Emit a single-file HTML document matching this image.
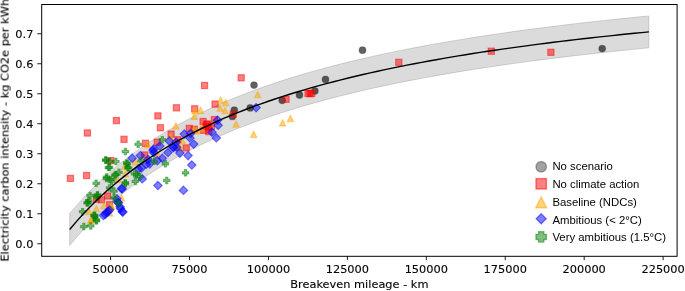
<!DOCTYPE html>
<html><head><meta charset="utf-8"><title>Breakeven mileage vs electricity carbon intensity</title>
<style>
html,body{margin:0;padding:0;background:#fff;}
body{width:685px;height:291px;overflow:hidden;}
svg{display:block;}
.dv{font-family:"DejaVu Sans","Liberation Sans",sans-serif;font-size:11.35px;fill:#000;stroke:#000;stroke-width:0.12px;}
.lb{font-family:"Liberation Sans",Arial,Helvetica,sans-serif;font-size:11.35px;fill:#000;}
</style></head><body>
<svg width="685" height="291" viewBox="0 0 685 291">
<rect x="0" y="0" width="685" height="291" fill="#fff"/>
<polygon points="69.68,213.47 77.01,204.89 84.35,196.83 91.68,189.24 99.01,182.08 106.34,175.32 113.67,168.93 121.01,162.87 128.34,157.12 135.67,151.66 143.00,146.46 150.33,141.51 157.67,136.79 165.00,132.28 172.33,127.98 179.66,123.86 186.99,119.91 194.32,116.13 201.66,112.51 208.99,109.03 216.32,105.68 223.65,102.47 230.98,99.37 238.32,96.39 245.65,93.52 252.98,90.75 260.31,88.07 267.64,85.49 274.98,83.00 282.31,80.59 289.64,78.26 296.97,76.00 304.30,73.81 311.64,71.70 318.97,69.65 326.30,67.66 333.63,65.73 340.96,63.85 348.29,62.03 355.63,60.27 362.96,58.55 370.29,56.88 377.62,55.25 384.95,53.67 392.29,52.13 399.62,50.64 406.95,49.18 414.28,47.75 421.61,46.37 428.95,45.02 436.28,43.70 443.61,42.41 450.94,41.16 458.27,39.93 465.61,38.74 472.94,37.57 480.27,36.43 487.60,35.31 494.93,34.22 502.26,33.15 509.60,32.11 516.93,31.09 524.26,30.09 531.59,29.12 538.92,28.16 546.26,27.22 553.59,26.30 560.92,25.41 568.25,24.53 575.58,23.66 582.92,22.82 590.25,21.99 597.58,21.17 604.91,20.38 612.24,19.59 619.58,18.83 626.91,18.07 634.24,17.33 641.57,16.61 648.90,15.89 648.90,47.87 641.57,48.59 634.24,49.31 626.91,50.05 619.58,50.81 612.24,51.57 604.91,52.36 597.58,53.15 590.25,53.97 582.92,54.80 575.58,55.64 568.25,56.51 560.92,57.39 553.59,58.28 546.26,59.20 538.92,60.14 531.59,61.10 524.26,62.07 516.93,63.07 509.60,64.09 502.26,65.13 494.93,66.20 487.60,67.29 480.27,68.41 472.94,69.55 465.61,70.72 458.27,71.91 450.94,73.14 443.61,74.39 436.28,75.68 428.95,77.00 421.61,78.35 414.28,79.73 406.95,81.16 399.62,82.62 392.29,84.11 384.95,85.65 377.62,87.23 370.29,88.86 362.96,90.53 355.63,92.25 348.29,94.01 340.96,95.83 333.63,97.71 326.30,99.64 318.97,101.63 311.64,103.68 304.30,105.79 296.97,107.98 289.64,110.24 282.31,112.57 274.98,114.98 267.64,117.47 260.31,120.05 252.98,122.73 245.65,125.50 238.32,128.37 230.98,131.35 223.65,134.45 216.32,137.66 208.99,141.01 201.66,144.49 194.32,148.11 186.99,151.89 179.66,155.84 172.33,159.96 165.00,164.26 157.67,168.77 150.33,173.49 143.00,178.44 135.67,183.64 128.34,189.10 121.01,194.85 113.67,200.91 106.34,207.30 99.01,214.06 91.68,221.22 84.35,228.81 77.01,236.87 69.68,245.45" fill="#000" fill-opacity="0.14" stroke="#000" stroke-opacity="0.18" stroke-width="0.8"/>
<g>
<circle cx="254.0" cy="85.1" r="3.4" fill="#000" fill-opacity="0.62" stroke="#000" stroke-opacity="0.25" stroke-width="1.1"/>
<circle cx="250.2" cy="107.9" r="3.4" fill="#000" fill-opacity="0.62" stroke="#000" stroke-opacity="0.25" stroke-width="1.1"/>
<circle cx="234.3" cy="110.2" r="3.4" fill="#000" fill-opacity="0.62" stroke="#000" stroke-opacity="0.25" stroke-width="1.1"/>
<circle cx="232.4" cy="116.4" r="3.4" fill="#000" fill-opacity="0.62" stroke="#000" stroke-opacity="0.25" stroke-width="1.1"/>
<circle cx="282.2" cy="100.3" r="3.4" fill="#000" fill-opacity="0.62" stroke="#000" stroke-opacity="0.25" stroke-width="1.1"/>
<circle cx="299.5" cy="95.0" r="3.4" fill="#000" fill-opacity="0.62" stroke="#000" stroke-opacity="0.25" stroke-width="1.1"/>
<circle cx="314.9" cy="90.9" r="3.4" fill="#000" fill-opacity="0.62" stroke="#000" stroke-opacity="0.25" stroke-width="1.1"/>
<circle cx="362.5" cy="50.2" r="3.4" fill="#000" fill-opacity="0.62" stroke="#000" stroke-opacity="0.25" stroke-width="1.1"/>
<circle cx="325.5" cy="79.4" r="3.4" fill="#000" fill-opacity="0.62" stroke="#000" stroke-opacity="0.25" stroke-width="1.1"/>
<circle cx="602.2" cy="48.6" r="3.4" fill="#000" fill-opacity="0.62" stroke="#000" stroke-opacity="0.25" stroke-width="1.1"/>
<rect x="84.3" y="129.9" width="6.2" height="6.2" fill="#f00" fill-opacity="0.5" stroke="#f00" stroke-opacity="0.5" stroke-width="1.1"/>
<rect x="113.3" y="117.5" width="6.2" height="6.2" fill="#f00" fill-opacity="0.5" stroke="#f00" stroke-opacity="0.5" stroke-width="1.1"/>
<rect x="120.9" y="136.2" width="6.2" height="6.2" fill="#f00" fill-opacity="0.5" stroke="#f00" stroke-opacity="0.5" stroke-width="1.1"/>
<rect x="142.4" y="140.2" width="6.2" height="6.2" fill="#f00" fill-opacity="0.5" stroke="#f00" stroke-opacity="0.5" stroke-width="1.1"/>
<rect x="67.3" y="175.3" width="6.2" height="6.2" fill="#f00" fill-opacity="0.5" stroke="#f00" stroke-opacity="0.5" stroke-width="1.1"/>
<rect x="83.5" y="172.4" width="6.2" height="6.2" fill="#f00" fill-opacity="0.5" stroke="#f00" stroke-opacity="0.5" stroke-width="1.1"/>
<rect x="107.7" y="157.6" width="6.2" height="6.2" fill="#f00" fill-opacity="0.5" stroke="#f00" stroke-opacity="0.5" stroke-width="1.1"/>
<rect x="141.6" y="151.9" width="6.2" height="6.2" fill="#f00" fill-opacity="0.5" stroke="#f00" stroke-opacity="0.5" stroke-width="1.1"/>
<rect x="93.3" y="196.1" width="6.2" height="6.2" fill="#f00" fill-opacity="0.5" stroke="#f00" stroke-opacity="0.5" stroke-width="1.1"/>
<rect x="98.3" y="196.7" width="6.2" height="6.2" fill="#f00" fill-opacity="0.5" stroke="#f00" stroke-opacity="0.5" stroke-width="1.1"/>
<rect x="104.6" y="192.9" width="6.2" height="6.2" fill="#f00" fill-opacity="0.5" stroke="#f00" stroke-opacity="0.5" stroke-width="1.1"/>
<rect x="106.5" y="201.7" width="6.2" height="6.2" fill="#f00" fill-opacity="0.5" stroke="#f00" stroke-opacity="0.5" stroke-width="1.1"/>
<rect x="154.8" y="112.8" width="6.2" height="6.2" fill="#f00" fill-opacity="0.5" stroke="#f00" stroke-opacity="0.5" stroke-width="1.1"/>
<rect x="157.3" y="124.7" width="6.2" height="6.2" fill="#f00" fill-opacity="0.5" stroke="#f00" stroke-opacity="0.5" stroke-width="1.1"/>
<rect x="168.0" y="131.0" width="6.2" height="6.2" fill="#f00" fill-opacity="0.5" stroke="#f00" stroke-opacity="0.5" stroke-width="1.1"/>
<rect x="186.2" y="125.3" width="6.2" height="6.2" fill="#f00" fill-opacity="0.5" stroke="#f00" stroke-opacity="0.5" stroke-width="1.1"/>
<rect x="154.2" y="139.1" width="6.2" height="6.2" fill="#f00" fill-opacity="0.5" stroke="#f00" stroke-opacity="0.5" stroke-width="1.1"/>
<rect x="174.9" y="136.6" width="6.2" height="6.2" fill="#f00" fill-opacity="0.5" stroke="#f00" stroke-opacity="0.5" stroke-width="1.1"/>
<rect x="183.1" y="144.8" width="6.2" height="6.2" fill="#f00" fill-opacity="0.5" stroke="#f00" stroke-opacity="0.5" stroke-width="1.1"/>
<rect x="200.0" y="118.4" width="6.2" height="6.2" fill="#f00" fill-opacity="0.5" stroke="#f00" stroke-opacity="0.5" stroke-width="1.1"/>
<rect x="204.4" y="120.9" width="6.2" height="6.2" fill="#f00" fill-opacity="0.5" stroke="#f00" stroke-opacity="0.5" stroke-width="1.1"/>
<rect x="200.7" y="127.2" width="6.2" height="6.2" fill="#f00" fill-opacity="0.5" stroke="#f00" stroke-opacity="0.5" stroke-width="1.1"/>
<rect x="205.7" y="128.5" width="6.2" height="6.2" fill="#f00" fill-opacity="0.5" stroke="#f00" stroke-opacity="0.5" stroke-width="1.1"/>
<rect x="211.3" y="116.5" width="6.2" height="6.2" fill="#f00" fill-opacity="0.5" stroke="#f00" stroke-opacity="0.5" stroke-width="1.1"/>
<rect x="208.2" y="123.5" width="6.2" height="6.2" fill="#f00" fill-opacity="0.5" stroke="#f00" stroke-opacity="0.5" stroke-width="1.1"/>
<rect x="191.2" y="126.2" width="6.2" height="6.2" fill="#f00" fill-opacity="0.5" stroke="#f00" stroke-opacity="0.5" stroke-width="1.1"/>
<rect x="202.9" y="123.5" width="6.2" height="6.2" fill="#f00" fill-opacity="0.5" stroke="#f00" stroke-opacity="0.5" stroke-width="1.1"/>
<rect x="201.5" y="82.4" width="6.2" height="6.2" fill="#f00" fill-opacity="0.5" stroke="#f00" stroke-opacity="0.5" stroke-width="1.1"/>
<rect x="173.3" y="104.7" width="6.2" height="6.2" fill="#f00" fill-opacity="0.5" stroke="#f00" stroke-opacity="0.5" stroke-width="1.1"/>
<rect x="191.6" y="105.7" width="6.2" height="6.2" fill="#f00" fill-opacity="0.5" stroke="#f00" stroke-opacity="0.5" stroke-width="1.1"/>
<rect x="212.0" y="101.0" width="6.2" height="6.2" fill="#f00" fill-opacity="0.5" stroke="#f00" stroke-opacity="0.5" stroke-width="1.1"/>
<rect x="238.1" y="74.7" width="6.2" height="6.2" fill="#f00" fill-opacity="0.5" stroke="#f00" stroke-opacity="0.5" stroke-width="1.1"/>
<rect x="230.2" y="111.0" width="6.2" height="6.2" fill="#f00" fill-opacity="0.5" stroke="#f00" stroke-opacity="0.5" stroke-width="1.1"/>
<rect x="282.9" y="96.2" width="6.2" height="6.2" fill="#f00" fill-opacity="0.5" stroke="#f00" stroke-opacity="0.5" stroke-width="1.1"/>
<rect x="304.9" y="90.3" width="6.2" height="6.2" fill="#f00" fill-opacity="0.5" stroke="#f00" stroke-opacity="0.5" stroke-width="1.1"/>
<rect x="308.6" y="90.3" width="6.2" height="6.2" fill="#f00" fill-opacity="0.5" stroke="#f00" stroke-opacity="0.5" stroke-width="1.1"/>
<rect x="203.4" y="121.4" width="6.2" height="6.2" fill="#f00" fill-opacity="0.5" stroke="#f00" stroke-opacity="0.5" stroke-width="1.1"/>
<rect x="205.6" y="124.4" width="6.2" height="6.2" fill="#f00" fill-opacity="0.5" stroke="#f00" stroke-opacity="0.5" stroke-width="1.1"/>
<rect x="306.9" y="90.6" width="6.2" height="6.2" fill="#f00" fill-opacity="0.5" stroke="#f00" stroke-opacity="0.5" stroke-width="1.1"/>
<rect x="395.7" y="59.2" width="6.2" height="6.2" fill="#f00" fill-opacity="0.5" stroke="#f00" stroke-opacity="0.5" stroke-width="1.1"/>
<rect x="488.2" y="48.1" width="6.2" height="6.2" fill="#f00" fill-opacity="0.5" stroke="#f00" stroke-opacity="0.5" stroke-width="1.1"/>
<rect x="547.8" y="49.2" width="6.2" height="6.2" fill="#f00" fill-opacity="0.5" stroke="#f00" stroke-opacity="0.5" stroke-width="1.1"/>
<path d="M147.8,141.8 L150.9,148.0 L144.7,148.0 Z" fill="#ffa500" fill-opacity="0.5" stroke="#ffa500" stroke-opacity="0.5" stroke-width="1.1" stroke-linejoin="miter"/>
<path d="M135.3,158.8 L138.4,165.0 L132.2,165.0 Z" fill="#ffa500" fill-opacity="0.5" stroke="#ffa500" stroke-opacity="0.5" stroke-width="1.1" stroke-linejoin="miter"/>
<path d="M124.7,163.2 L127.8,169.4 L121.6,169.4 Z" fill="#ffa500" fill-opacity="0.5" stroke="#ffa500" stroke-opacity="0.5" stroke-width="1.1" stroke-linejoin="miter"/>
<path d="M125.3,170.8 L128.4,177.0 L122.2,177.0 Z" fill="#ffa500" fill-opacity="0.5" stroke="#ffa500" stroke-opacity="0.5" stroke-width="1.1" stroke-linejoin="miter"/>
<path d="M117.8,176.4 L120.9,182.6 L114.7,182.6 Z" fill="#ffa500" fill-opacity="0.5" stroke="#ffa500" stroke-opacity="0.5" stroke-width="1.1" stroke-linejoin="miter"/>
<path d="M96.4,205.5 L99.5,211.7 L93.3,211.7 Z" fill="#ffa500" fill-opacity="0.5" stroke="#ffa500" stroke-opacity="0.5" stroke-width="1.1" stroke-linejoin="miter"/>
<path d="M103.9,202.4 L107.0,208.6 L100.8,208.6 Z" fill="#ffa500" fill-opacity="0.5" stroke="#ffa500" stroke-opacity="0.5" stroke-width="1.1" stroke-linejoin="miter"/>
<path d="M88.9,208.6 L92.0,214.8 L85.8,214.8 Z" fill="#ffa500" fill-opacity="0.5" stroke="#ffa500" stroke-opacity="0.5" stroke-width="1.1" stroke-linejoin="miter"/>
<path d="M91.4,216.2 L94.5,222.4 L88.3,222.4 Z" fill="#ffa500" fill-opacity="0.5" stroke="#ffa500" stroke-opacity="0.5" stroke-width="1.1" stroke-linejoin="miter"/>
<path d="M121.5,194.8 L124.6,201.0 L118.4,201.0 Z" fill="#ffa500" fill-opacity="0.5" stroke="#ffa500" stroke-opacity="0.5" stroke-width="1.1" stroke-linejoin="miter"/>
<path d="M111.5,203.0 L114.6,209.2 L108.4,209.2 Z" fill="#ffa500" fill-opacity="0.5" stroke="#ffa500" stroke-opacity="0.5" stroke-width="1.1" stroke-linejoin="miter"/>
<path d="M109.6,209.9 L112.7,216.1 L106.5,216.1 Z" fill="#ffa500" fill-opacity="0.5" stroke="#ffa500" stroke-opacity="0.5" stroke-width="1.1" stroke-linejoin="miter"/>
<path d="M90.8,217.2 L93.9,223.4 L87.7,223.4 Z" fill="#ffa500" fill-opacity="0.5" stroke="#ffa500" stroke-opacity="0.5" stroke-width="1.1" stroke-linejoin="miter"/>
<path d="M157.9,151.3 L161.0,157.5 L154.8,157.5 Z" fill="#ffa500" fill-opacity="0.5" stroke="#ffa500" stroke-opacity="0.5" stroke-width="1.1" stroke-linejoin="miter"/>
<path d="M175.9,122.8 L179.0,129.0 L172.8,129.0 Z" fill="#ffa500" fill-opacity="0.5" stroke="#ffa500" stroke-opacity="0.5" stroke-width="1.1" stroke-linejoin="miter"/>
<path d="M194.3,113.2 L197.4,119.4 L191.2,119.4 Z" fill="#ffa500" fill-opacity="0.5" stroke="#ffa500" stroke-opacity="0.5" stroke-width="1.1" stroke-linejoin="miter"/>
<path d="M170.5,133.5 L173.6,139.7 L167.4,139.7 Z" fill="#ffa500" fill-opacity="0.5" stroke="#ffa500" stroke-opacity="0.5" stroke-width="1.1" stroke-linejoin="miter"/>
<path d="M193.7,126.0 L196.8,132.2 L190.6,132.2 Z" fill="#ffa500" fill-opacity="0.5" stroke="#ffa500" stroke-opacity="0.5" stroke-width="1.1" stroke-linejoin="miter"/>
<path d="M201.2,124.7 L204.3,130.9 L198.1,130.9 Z" fill="#ffa500" fill-opacity="0.5" stroke="#ffa500" stroke-opacity="0.5" stroke-width="1.1" stroke-linejoin="miter"/>
<path d="M182.4,137.9 L185.5,144.1 L179.3,144.1 Z" fill="#ffa500" fill-opacity="0.5" stroke="#ffa500" stroke-opacity="0.5" stroke-width="1.1" stroke-linejoin="miter"/>
<path d="M196.8,127.8 L199.9,134.0 L193.7,134.0 Z" fill="#ffa500" fill-opacity="0.5" stroke="#ffa500" stroke-opacity="0.5" stroke-width="1.1" stroke-linejoin="miter"/>
<path d="M179.3,144.2 L182.4,150.4 L176.2,150.4 Z" fill="#ffa500" fill-opacity="0.5" stroke="#ffa500" stroke-opacity="0.5" stroke-width="1.1" stroke-linejoin="miter"/>
<path d="M220.7,96.9 L223.8,103.1 L217.6,103.1 Z" fill="#ffa500" fill-opacity="0.5" stroke="#ffa500" stroke-opacity="0.5" stroke-width="1.1" stroke-linejoin="miter"/>
<path d="M225.7,99.4 L228.8,105.6 L222.6,105.6 Z" fill="#ffa500" fill-opacity="0.5" stroke="#ffa500" stroke-opacity="0.5" stroke-width="1.1" stroke-linejoin="miter"/>
<path d="M220.1,105.0 L223.2,111.2 L217.0,111.2 Z" fill="#ffa500" fill-opacity="0.5" stroke="#ffa500" stroke-opacity="0.5" stroke-width="1.1" stroke-linejoin="miter"/>
<path d="M225.1,107.5 L228.2,113.7 L222.0,113.7 Z" fill="#ffa500" fill-opacity="0.5" stroke="#ffa500" stroke-opacity="0.5" stroke-width="1.1" stroke-linejoin="miter"/>
<path d="M195.0,107.8 L198.1,114.0 L191.9,114.0 Z" fill="#ffa500" fill-opacity="0.5" stroke="#ffa500" stroke-opacity="0.5" stroke-width="1.1" stroke-linejoin="miter"/>
<path d="M200.6,107.3 L203.7,113.5 L197.5,113.5 Z" fill="#ffa500" fill-opacity="0.5" stroke="#ffa500" stroke-opacity="0.5" stroke-width="1.1" stroke-linejoin="miter"/>
<path d="M257.7,91.6 L260.8,97.8 L254.6,97.8 Z" fill="#ffa500" fill-opacity="0.5" stroke="#ffa500" stroke-opacity="0.5" stroke-width="1.1" stroke-linejoin="miter"/>
<path d="M290.4,115.6 L293.5,121.8 L287.3,121.8 Z" fill="#ffa500" fill-opacity="0.5" stroke="#ffa500" stroke-opacity="0.5" stroke-width="1.1" stroke-linejoin="miter"/>
<path d="M282.6,119.7 L285.7,125.9 L279.5,125.9 Z" fill="#ffa500" fill-opacity="0.5" stroke="#ffa500" stroke-opacity="0.5" stroke-width="1.1" stroke-linejoin="miter"/>
<path d="M253.7,131.3 L256.8,137.5 L250.6,137.5 Z" fill="#ffa500" fill-opacity="0.5" stroke="#ffa500" stroke-opacity="0.5" stroke-width="1.1" stroke-linejoin="miter"/>
<path d="M236.1,121.0 L239.2,127.2 L233.0,127.2 Z" fill="#ffa500" fill-opacity="0.5" stroke="#ffa500" stroke-opacity="0.5" stroke-width="1.1" stroke-linejoin="miter"/>
<path d="M111.0,203.5 L114.1,209.7 L107.9,209.7 Z" fill="#ffa500" fill-opacity="0.5" stroke="#ffa500" stroke-opacity="0.5" stroke-width="1.1" stroke-linejoin="miter"/>
<path d="M110.2,204.3 L113.3,210.5 L107.1,210.5 Z" fill="#ffa500" fill-opacity="0.5" stroke="#ffa500" stroke-opacity="0.5" stroke-width="1.1" stroke-linejoin="miter"/>
<path d="M179.3,143.7 L182.4,149.9 L176.2,149.9 Z" fill="#ffa500" fill-opacity="0.5" stroke="#ffa500" stroke-opacity="0.5" stroke-width="1.1" stroke-linejoin="miter"/>
<path d="M132.2,153.9 L136.4,158.2 L132.2,162.4 L127.9,158.2 Z" fill="#00f" fill-opacity="0.5" stroke="#00f" stroke-opacity="0.5" stroke-width="1.1"/>
<path d="M140.4,151.4 L144.6,155.6 L140.4,159.9 L136.1,155.6 Z" fill="#00f" fill-opacity="0.5" stroke="#00f" stroke-opacity="0.5" stroke-width="1.1"/>
<path d="M138.5,164.6 L142.7,168.8 L138.5,173.1 L134.2,168.8 Z" fill="#00f" fill-opacity="0.5" stroke="#00f" stroke-opacity="0.5" stroke-width="1.1"/>
<path d="M142.2,174.6 L146.5,178.9 L142.2,183.1 L138.0,178.9 Z" fill="#00f" fill-opacity="0.5" stroke="#00f" stroke-opacity="0.5" stroke-width="1.1"/>
<path d="M121.5,184.3 L125.8,188.5 L121.5,192.8 L117.3,188.5 Z" fill="#00f" fill-opacity="0.5" stroke="#00f" stroke-opacity="0.5" stroke-width="1.1"/>
<path d="M117.0,194.6 L121.2,198.8 L117.0,203.1 L112.7,198.8 Z" fill="#00f" fill-opacity="0.5" stroke="#00f" stroke-opacity="0.5" stroke-width="1.1"/>
<path d="M118.5,198.6 L122.8,202.8 L118.5,207.1 L114.3,202.8 Z" fill="#00f" fill-opacity="0.5" stroke="#00f" stroke-opacity="0.5" stroke-width="1.1"/>
<path d="M120.0,202.6 L124.3,206.8 L120.0,211.1 L115.8,206.8 Z" fill="#00f" fill-opacity="0.5" stroke="#00f" stroke-opacity="0.5" stroke-width="1.1"/>
<path d="M122.3,207.2 L126.5,211.5 L122.3,215.7 L118.0,211.5 Z" fill="#00f" fill-opacity="0.5" stroke="#00f" stroke-opacity="0.5" stroke-width="1.1"/>
<path d="M103.3,211.3 L107.6,215.5 L103.3,219.8 L99.1,215.5 Z" fill="#00f" fill-opacity="0.5" stroke="#00f" stroke-opacity="0.5" stroke-width="1.1"/>
<path d="M106.5,208.2 L110.7,212.5 L106.5,216.7 L102.2,212.5 Z" fill="#00f" fill-opacity="0.5" stroke="#00f" stroke-opacity="0.5" stroke-width="1.1"/>
<path d="M109.5,205.7 L113.7,210.0 L109.5,214.2 L105.2,210.0 Z" fill="#00f" fill-opacity="0.5" stroke="#00f" stroke-opacity="0.5" stroke-width="1.1"/>
<path d="M191.8,160.8 L196.1,165.1 L191.8,169.3 L187.6,165.1 Z" fill="#00f" fill-opacity="0.5" stroke="#00f" stroke-opacity="0.5" stroke-width="1.1"/>
<path d="M188.1,151.4 L192.3,155.6 L188.1,159.9 L183.8,155.6 Z" fill="#00f" fill-opacity="0.5" stroke="#00f" stroke-opacity="0.5" stroke-width="1.1"/>
<path d="M179.9,148.9 L184.1,153.1 L179.9,157.4 L175.6,153.1 Z" fill="#00f" fill-opacity="0.5" stroke="#00f" stroke-opacity="0.5" stroke-width="1.1"/>
<path d="M168.0,148.3 L172.2,152.5 L168.0,156.8 L163.7,152.5 Z" fill="#00f" fill-opacity="0.5" stroke="#00f" stroke-opacity="0.5" stroke-width="1.1"/>
<path d="M162.3,153.9 L166.6,158.2 L162.3,162.4 L158.1,158.2 Z" fill="#00f" fill-opacity="0.5" stroke="#00f" stroke-opacity="0.5" stroke-width="1.1"/>
<path d="M157.9,181.3 L162.2,185.5 L157.9,189.8 L153.7,185.5 Z" fill="#00f" fill-opacity="0.5" stroke="#00f" stroke-opacity="0.5" stroke-width="1.1"/>
<path d="M149.8,159.6 L154.0,163.8 L149.8,168.1 L145.5,163.8 Z" fill="#00f" fill-opacity="0.5" stroke="#00f" stroke-opacity="0.5" stroke-width="1.1"/>
<path d="M157.3,156.4 L161.5,160.7 L157.3,164.9 L153.0,160.7 Z" fill="#00f" fill-opacity="0.5" stroke="#00f" stroke-opacity="0.5" stroke-width="1.1"/>
<path d="M183.4,186.1 L187.7,190.4 L183.4,194.6 L179.2,190.4 Z" fill="#00f" fill-opacity="0.5" stroke="#00f" stroke-opacity="0.5" stroke-width="1.1"/>
<path d="M184.3,129.8 L188.5,134.1 L184.3,138.3 L180.0,134.1 Z" fill="#00f" fill-opacity="0.5" stroke="#00f" stroke-opacity="0.5" stroke-width="1.1"/>
<path d="M190.6,129.2 L194.8,133.5 L190.6,137.7 L186.3,133.5 Z" fill="#00f" fill-opacity="0.5" stroke="#00f" stroke-opacity="0.5" stroke-width="1.1"/>
<path d="M189.9,133.6 L194.2,137.9 L189.9,142.1 L185.7,137.9 Z" fill="#00f" fill-opacity="0.5" stroke="#00f" stroke-opacity="0.5" stroke-width="1.1"/>
<path d="M193.7,139.9 L198.0,144.1 L193.7,148.4 L189.5,144.1 Z" fill="#00f" fill-opacity="0.5" stroke="#00f" stroke-opacity="0.5" stroke-width="1.1"/>
<path d="M169.2,136.7 L173.5,141.0 L169.2,145.2 L165.0,141.0 Z" fill="#00f" fill-opacity="0.5" stroke="#00f" stroke-opacity="0.5" stroke-width="1.1"/>
<path d="M176.1,138.0 L180.4,142.2 L176.1,146.5 L171.9,142.2 Z" fill="#00f" fill-opacity="0.5" stroke="#00f" stroke-opacity="0.5" stroke-width="1.1"/>
<path d="M159.8,141.8 L164.1,146.0 L159.8,150.3 L155.6,146.0 Z" fill="#00f" fill-opacity="0.5" stroke="#00f" stroke-opacity="0.5" stroke-width="1.1"/>
<path d="M217.6,116.0 L221.8,120.3 L217.6,124.5 L213.3,120.3 Z" fill="#00f" fill-opacity="0.5" stroke="#00f" stroke-opacity="0.5" stroke-width="1.1"/>
<path d="M218.2,121.0 L222.4,125.3 L218.2,129.5 L213.9,125.3 Z" fill="#00f" fill-opacity="0.5" stroke="#00f" stroke-opacity="0.5" stroke-width="1.1"/>
<path d="M211.9,128.0 L216.2,132.2 L211.9,136.5 L207.7,132.2 Z" fill="#00f" fill-opacity="0.5" stroke="#00f" stroke-opacity="0.5" stroke-width="1.1"/>
<path d="M216.3,133.6 L220.6,137.9 L216.3,142.1 L212.1,137.9 Z" fill="#00f" fill-opacity="0.5" stroke="#00f" stroke-opacity="0.5" stroke-width="1.1"/>
<path d="M153.5,144.9 L157.8,149.2 L153.5,153.4 L149.3,149.2 Z" fill="#00f" fill-opacity="0.5" stroke="#00f" stroke-opacity="0.5" stroke-width="1.1"/>
<path d="M173.0,143.0 L177.2,147.3 L173.0,151.5 L168.7,147.3 Z" fill="#00f" fill-opacity="0.5" stroke="#00f" stroke-opacity="0.5" stroke-width="1.1"/>
<path d="M256.1,103.4 L260.4,107.6 L256.1,111.9 L251.9,107.6 Z" fill="#00f" fill-opacity="0.5" stroke="#00f" stroke-opacity="0.5" stroke-width="1.1"/>
<path d="M141.5,163.8 L145.8,168.0 L141.5,172.2 L137.3,168.0 Z" fill="#00f" fill-opacity="0.5" stroke="#00f" stroke-opacity="0.5" stroke-width="1.1"/>
<path d="M146.4,159.9 L150.7,164.2 L146.4,168.4 L142.2,164.2 Z" fill="#00f" fill-opacity="0.5" stroke="#00f" stroke-opacity="0.5" stroke-width="1.1"/>
<path d="M176.6,143.0 L180.9,147.3 L176.6,151.5 L172.4,147.3 Z" fill="#00f" fill-opacity="0.5" stroke="#00f" stroke-opacity="0.5" stroke-width="1.1"/>
<path d="M153.8,148.5 L158.1,152.8 L153.8,157.0 L149.6,152.8 Z" fill="#00f" fill-opacity="0.5" stroke="#00f" stroke-opacity="0.5" stroke-width="1.1"/>
<path d="M122.2,184.7 L126.4,189.0 L122.2,193.2 L117.9,189.0 Z" fill="#00f" fill-opacity="0.5" stroke="#00f" stroke-opacity="0.5" stroke-width="1.1"/>
<path d="M105.2,210.2 L109.5,214.5 L105.2,218.7 L101.0,214.5 Z" fill="#00f" fill-opacity="0.5" stroke="#00f" stroke-opacity="0.5" stroke-width="1.1"/>
<path d="M108.4,207.3 L112.6,211.6 L108.4,215.8 L104.1,211.6 Z" fill="#00f" fill-opacity="0.5" stroke="#00f" stroke-opacity="0.5" stroke-width="1.1"/>
<path d="M117.6,197.9 L121.8,202.1 L117.6,206.4 L113.3,202.1 Z" fill="#00f" fill-opacity="0.5" stroke="#00f" stroke-opacity="0.5" stroke-width="1.1"/>
<path d="M120.5,204.3 L124.7,208.6 L120.5,212.8 L116.2,208.6 Z" fill="#00f" fill-opacity="0.5" stroke="#00f" stroke-opacity="0.5" stroke-width="1.1"/>
<path d="M122.8,207.9 L127.1,212.1 L122.8,216.4 L118.6,212.1 Z" fill="#00f" fill-opacity="0.5" stroke="#00f" stroke-opacity="0.5" stroke-width="1.1"/>
<path d="M153.0,146.3 L157.2,150.6 L153.0,154.8 L148.8,150.6 Z" fill="#00f" fill-opacity="0.5" stroke="#00f" stroke-opacity="0.5" stroke-width="1.1"/>
<path d="M173.7,143.2 L177.9,147.5 L173.7,151.8 L169.4,147.5 Z" fill="#00f" fill-opacity="0.5" stroke="#00f" stroke-opacity="0.5" stroke-width="1.1"/>
<path d="M147.9,155.2 L152.2,159.4 L147.9,163.7 L143.7,159.4 Z" fill="#00f" fill-opacity="0.5" stroke="#00f" stroke-opacity="0.5" stroke-width="1.1"/>
<path d="M137.12,141.08 H139.26 V143.21 H141.39 V145.35 H139.26 V147.48 H137.12 V145.35 H134.99 V143.21 H137.12 Z" fill="#008000" fill-opacity="0.5" stroke="#008000" stroke-opacity="0.5" stroke-width="1.1"/>
<path d="M124.31,148.40 H126.44 V150.54 H128.58 V152.67 H126.44 V154.80 H124.31 V152.67 H122.18 V150.54 H124.31 Z" fill="#008000" fill-opacity="0.5" stroke="#008000" stroke-opacity="0.5" stroke-width="1.1"/>
<path d="M104.76,157.09 H106.89 V159.23 H109.02 V161.36 H106.89 V163.49 H104.76 V161.36 H102.62 V159.23 H104.76 Z" fill="#008000" fill-opacity="0.5" stroke="#008000" stroke-opacity="0.5" stroke-width="1.1"/>
<path d="M108.52,158.10 H110.66 V160.23 H112.79 V162.37 H110.66 V164.50 H108.52 V162.37 H106.39 V160.23 H108.52 Z" fill="#008000" fill-opacity="0.5" stroke="#008000" stroke-opacity="0.5" stroke-width="1.1"/>
<path d="M114.80,158.35 H116.94 V160.48 H119.07 V162.62 H116.94 V164.75 H114.80 V162.62 H112.67 V160.48 H114.80 Z" fill="#008000" fill-opacity="0.5" stroke="#008000" stroke-opacity="0.5" stroke-width="1.1"/>
<path d="M107.27,164.38 H109.40 V166.51 H111.54 V168.64 H109.40 V170.78 H107.27 V168.64 H105.14 V166.51 H107.27 Z" fill="#008000" fill-opacity="0.5" stroke="#008000" stroke-opacity="0.5" stroke-width="1.1"/>
<path d="M95.09,180.07 H97.22 V182.20 H99.36 V184.34 H97.22 V186.47 H95.09 V184.34 H92.96 V182.20 H95.09 Z" fill="#008000" fill-opacity="0.5" stroke="#008000" stroke-opacity="0.5" stroke-width="1.1"/>
<path d="M105.39,173.79 H107.52 V175.93 H109.65 V178.06 H107.52 V180.19 H105.39 V178.06 H103.25 V175.93 H105.39 Z" fill="#008000" fill-opacity="0.5" stroke="#008000" stroke-opacity="0.5" stroke-width="1.1"/>
<path d="M109.15,176.30 H111.29 V178.44 H113.42 V180.57 H111.29 V182.70 H109.15 V180.57 H107.02 V178.44 H109.15 Z" fill="#008000" fill-opacity="0.5" stroke="#008000" stroke-opacity="0.5" stroke-width="1.1"/>
<path d="M114.17,171.28 H116.31 V173.42 H118.44 V175.55 H116.31 V177.68 H114.17 V175.55 H112.04 V173.42 H114.17 Z" fill="#008000" fill-opacity="0.5" stroke="#008000" stroke-opacity="0.5" stroke-width="1.1"/>
<path d="M117.94,169.15 H120.07 V171.28 H122.21 V173.41 H120.07 V175.55 H117.94 V173.41 H115.81 V171.28 H117.94 Z" fill="#008000" fill-opacity="0.5" stroke="#008000" stroke-opacity="0.5" stroke-width="1.1"/>
<path d="M126.10,160.61 H128.23 V162.74 H130.37 V164.88 H128.23 V167.01 H126.10 V164.88 H123.97 V162.74 H126.10 Z" fill="#008000" fill-opacity="0.5" stroke="#008000" stroke-opacity="0.5" stroke-width="1.1"/>
<path d="M126.73,164.38 H128.86 V166.51 H131.00 V168.64 H128.86 V170.78 H126.73 V168.64 H124.60 V166.51 H126.73 Z" fill="#008000" fill-opacity="0.5" stroke="#008000" stroke-opacity="0.5" stroke-width="1.1"/>
<path d="M124.22,179.44 H126.35 V181.58 H128.48 V183.71 H126.35 V185.84 H124.22 V183.71 H122.08 V181.58 H124.22 Z" fill="#008000" fill-opacity="0.5" stroke="#008000" stroke-opacity="0.5" stroke-width="1.1"/>
<path d="M134.26,178.19 H136.40 V180.32 H138.53 V182.45 H136.40 V184.59 H134.26 V182.45 H132.13 V180.32 H134.26 Z" fill="#008000" fill-opacity="0.5" stroke="#008000" stroke-opacity="0.5" stroke-width="1.1"/>
<path d="M135.52,171.28 H137.65 V173.42 H139.78 V175.55 H137.65 V177.68 H135.52 V175.55 H133.38 V173.42 H135.52 Z" fill="#008000" fill-opacity="0.5" stroke="#008000" stroke-opacity="0.5" stroke-width="1.1"/>
<path d="M89.06,192.22 H91.20 V194.35 H93.33 V196.48 H91.20 V198.62 H89.06 V196.48 H86.93 V194.35 H89.06 Z" fill="#008000" fill-opacity="0.5" stroke="#008000" stroke-opacity="0.5" stroke-width="1.1"/>
<path d="M85.93,199.75 H88.06 V201.88 H90.19 V204.02 H88.06 V206.15 H85.93 V204.02 H83.79 V201.88 H85.93 Z" fill="#008000" fill-opacity="0.5" stroke="#008000" stroke-opacity="0.5" stroke-width="1.1"/>
<path d="M96.60,191.59 H98.73 V193.72 H100.86 V195.85 H98.73 V197.99 H96.60 V195.85 H94.46 V193.72 H96.60 Z" fill="#008000" fill-opacity="0.5" stroke="#008000" stroke-opacity="0.5" stroke-width="1.1"/>
<path d="M81.53,208.54 H83.67 V210.67 H85.80 V212.80 H83.67 V214.94 H81.53 V212.80 H79.40 V210.67 H81.53 Z" fill="#008000" fill-opacity="0.5" stroke="#008000" stroke-opacity="0.5" stroke-width="1.1"/>
<path d="M92.83,212.30 H94.96 V214.44 H97.10 V216.57 H94.96 V218.70 H92.83 V216.57 H90.70 V214.44 H92.83 Z" fill="#008000" fill-opacity="0.5" stroke="#008000" stroke-opacity="0.5" stroke-width="1.1"/>
<path d="M95.34,216.70 H97.48 V218.83 H99.61 V220.96 H97.48 V223.10 H95.34 V220.96 H93.21 V218.83 H95.34 Z" fill="#008000" fill-opacity="0.5" stroke="#008000" stroke-opacity="0.5" stroke-width="1.1"/>
<path d="M112.92,187.82 H115.05 V189.96 H117.19 V192.09 H115.05 V194.22 H112.92 V192.09 H110.79 V189.96 H112.92 Z" fill="#008000" fill-opacity="0.5" stroke="#008000" stroke-opacity="0.5" stroke-width="1.1"/>
<path d="M108.52,184.68 H110.66 V186.82 H112.79 V188.95 H110.66 V191.08 H108.52 V188.95 H106.39 V186.82 H108.52 Z" fill="#008000" fill-opacity="0.5" stroke="#008000" stroke-opacity="0.5" stroke-width="1.1"/>
<path d="M117.31,200.38 H119.45 V202.51 H121.58 V204.64 H119.45 V206.78 H117.31 V204.64 H115.18 V202.51 H117.31 Z" fill="#008000" fill-opacity="0.5" stroke="#008000" stroke-opacity="0.5" stroke-width="1.1"/>
<path d="M112.92,194.73 H115.05 V196.86 H117.19 V198.99 H115.05 V201.13 H112.92 V198.99 H110.79 V196.86 H112.92 Z" fill="#008000" fill-opacity="0.5" stroke="#008000" stroke-opacity="0.5" stroke-width="1.1"/>
<path d="M82.79,223.35 H84.92 V225.49 H87.05 V227.62 H84.92 V229.75 H82.79 V227.62 H80.65 V225.49 H82.79 Z" fill="#008000" fill-opacity="0.5" stroke="#008000" stroke-opacity="0.5" stroke-width="1.1"/>
<path d="M89.69,222.73 H91.83 V224.86 H93.96 V226.99 H91.83 V229.13 H89.69 V226.99 H87.56 V224.86 H89.69 Z" fill="#008000" fill-opacity="0.5" stroke="#008000" stroke-opacity="0.5" stroke-width="1.1"/>
<path d="M95.34,217.71 H97.48 V219.84 H99.61 V221.97 H97.48 V224.11 H95.34 V221.97 H93.21 V219.84 H95.34 Z" fill="#008000" fill-opacity="0.5" stroke="#008000" stroke-opacity="0.5" stroke-width="1.1"/>
<path d="M164.39,160.61 H166.53 V162.74 H168.66 V164.88 H166.53 V167.01 H164.39 V164.88 H162.26 V162.74 H164.39 Z" fill="#008000" fill-opacity="0.5" stroke="#008000" stroke-opacity="0.5" stroke-width="1.1"/>
<path d="M184.48,169.65 H186.61 V171.78 H188.75 V173.92 H186.61 V176.05 H184.48 V173.92 H182.35 V171.78 H184.48 Z" fill="#008000" fill-opacity="0.5" stroke="#008000" stroke-opacity="0.5" stroke-width="1.1"/>
<path d="M165.65,177.18 H167.78 V179.32 H169.92 V181.45 H167.78 V183.58 H165.65 V181.45 H163.52 V179.32 H165.65 Z" fill="#008000" fill-opacity="0.5" stroke="#008000" stroke-opacity="0.5" stroke-width="1.1"/>
<path d="M153.09,158.10 H155.23 V160.23 H157.36 V162.37 H155.23 V164.50 H153.09 V162.37 H150.96 V160.23 H153.09 Z" fill="#008000" fill-opacity="0.5" stroke="#008000" stroke-opacity="0.5" stroke-width="1.1"/>
<path d="M161.25,136.54 H163.39 V138.67 H165.52 V140.80 H163.39 V142.94 H161.25 V140.80 H159.12 V138.67 H161.25 Z" fill="#008000" fill-opacity="0.5" stroke="#008000" stroke-opacity="0.5" stroke-width="1.1"/>
<path d="M104.74,156.79 H106.88 V158.92 H109.01 V161.05 H106.88 V163.19 H104.74 V161.05 H102.61 V158.92 H104.74 Z" fill="#008000" fill-opacity="0.5" stroke="#008000" stroke-opacity="0.5" stroke-width="1.1"/>
<path d="M108.55,164.14 H110.69 V166.28 H112.82 V168.41 H110.69 V170.54 H108.55 V168.41 H106.42 V166.28 H108.55 Z" fill="#008000" fill-opacity="0.5" stroke="#008000" stroke-opacity="0.5" stroke-width="1.1"/>
<path d="M110.52,177.94 H112.66 V180.07 H114.79 V182.21 H112.66 V184.34 H110.52 V182.21 H108.39 V180.07 H110.52 Z" fill="#008000" fill-opacity="0.5" stroke="#008000" stroke-opacity="0.5" stroke-width="1.1"/>
<path d="M105.40,175.31 H107.53 V177.44 H109.67 V179.58 H107.53 V181.71 H105.40 V179.58 H103.27 V177.44 H105.40 Z" fill="#008000" fill-opacity="0.5" stroke="#008000" stroke-opacity="0.5" stroke-width="1.1"/>
<path d="M113.81,172.68 H115.94 V174.82 H118.08 V176.95 H115.94 V179.08 H113.81 V176.95 H111.68 V174.82 H113.81 Z" fill="#008000" fill-opacity="0.5" stroke="#008000" stroke-opacity="0.5" stroke-width="1.1"/>
<path d="M125.63,159.68 H127.77 V161.81 H129.90 V163.94 H127.77 V166.08 H125.63 V163.94 H123.50 V161.81 H125.63 Z" fill="#008000" fill-opacity="0.5" stroke="#008000" stroke-opacity="0.5" stroke-width="1.1"/>
<path d="M127.60,164.80 H129.74 V166.93 H131.87 V169.07 H129.74 V171.20 H127.60 V169.07 H125.47 V166.93 H127.60 Z" fill="#008000" fill-opacity="0.5" stroke="#008000" stroke-opacity="0.5" stroke-width="1.1"/>
<path d="M124.32,180.57 H126.45 V182.70 H128.59 V184.83 H126.45 V186.97 H124.32 V184.83 H122.19 V182.70 H124.32 Z" fill="#008000" fill-opacity="0.5" stroke="#008000" stroke-opacity="0.5" stroke-width="1.1"/>
<path d="M133.52,170.71 H135.65 V172.85 H137.78 V174.98 H135.65 V177.11 H133.52 V174.98 H131.38 V172.85 H133.52 Z" fill="#008000" fill-opacity="0.5" stroke="#008000" stroke-opacity="0.5" stroke-width="1.1"/>
<path d="M138.77,173.34 H140.91 V175.47 H143.04 V177.61 H140.91 V179.74 H138.77 V177.61 H136.64 V175.47 H138.77 Z" fill="#008000" fill-opacity="0.5" stroke="#008000" stroke-opacity="0.5" stroke-width="1.1"/>
<path d="M86.93,199.46 H89.07 V201.59 H91.20 V203.72 H89.07 V205.86 H86.93 V203.72 H84.80 V201.59 H86.93 Z" fill="#008000" fill-opacity="0.5" stroke="#008000" stroke-opacity="0.5" stroke-width="1.1"/>
<path d="M96.13,192.23 H98.26 V194.36 H100.40 V196.50 H98.26 V198.63 H96.13 V196.50 H94.00 V194.36 H96.13 Z" fill="#008000" fill-opacity="0.5" stroke="#008000" stroke-opacity="0.5" stroke-width="1.1"/>
<path d="M93.50,211.94 H95.64 V214.07 H97.77 V216.21 H95.64 V218.34 H93.50 V216.21 H91.37 V214.07 H93.50 Z" fill="#008000" fill-opacity="0.5" stroke="#008000" stroke-opacity="0.5" stroke-width="1.1"/>
<path d="M95.87,194.33 H98.00 V196.47 H100.13 V198.60 H98.00 V200.73 H95.87 V198.60 H93.73 V196.47 H95.87 Z" fill="#008000" fill-opacity="0.5" stroke="#008000" stroke-opacity="0.5" stroke-width="1.1"/>
<path d="M87.59,197.62 H89.72 V199.75 H91.86 V201.88 H89.72 V204.02 H87.59 V201.88 H85.46 V199.75 H87.59 Z" fill="#008000" fill-opacity="0.5" stroke="#008000" stroke-opacity="0.5" stroke-width="1.1"/>
<path d="M93.90,213.65 H96.03 V215.78 H98.16 V217.91 H96.03 V220.05 H93.90 V217.91 H91.76 V215.78 H93.90 Z" fill="#008000" fill-opacity="0.5" stroke="#008000" stroke-opacity="0.5" stroke-width="1.1"/>
<path d="M139.93,157.70 H142.07 V159.83 H144.20 V161.97 H142.07 V164.10 H139.93 V161.97 H137.80 V159.83 H139.93 Z" fill="#008000" fill-opacity="0.5" stroke="#008000" stroke-opacity="0.5" stroke-width="1.1"/>
</g>
<polyline points="69.68,229.46 77.01,220.88 84.35,212.82 91.68,205.23 99.01,198.07 106.34,191.31 113.67,184.92 121.01,178.86 128.34,173.11 135.67,167.65 143.00,162.45 150.33,157.50 157.67,152.78 165.00,148.27 172.33,143.97 179.66,139.85 186.99,135.90 194.32,132.12 201.66,128.50 208.99,125.02 216.32,121.67 223.65,118.46 230.98,115.36 238.32,112.38 245.65,109.51 252.98,106.74 260.31,104.06 267.64,101.48 274.98,98.99 282.31,96.58 289.64,94.25 296.97,91.99 304.30,89.80 311.64,87.69 318.97,85.64 326.30,83.65 333.63,81.72 340.96,79.84 348.29,78.02 355.63,76.26 362.96,74.54 370.29,72.87 377.62,71.24 384.95,69.66 392.29,68.12 399.62,66.63 406.95,65.17 414.28,63.74 421.61,62.36 428.95,61.01 436.28,59.69 443.61,58.40 450.94,57.15 458.27,55.92 465.61,54.73 472.94,53.56 480.27,52.42 487.60,51.30 494.93,50.21 502.26,49.14 509.60,48.10 516.93,47.08 524.26,46.08 531.59,45.11 538.92,44.15 546.26,43.21 553.59,42.29 560.92,41.40 568.25,40.52 575.58,39.65 582.92,38.81 590.25,37.98 597.58,37.16 604.91,36.37 612.24,35.58 619.58,34.82 626.91,34.06 634.24,33.32 641.57,32.60 648.90,31.88" fill="none" stroke="#000" stroke-width="1.4"/>
<rect x="41.7" y="4.5" width="635.4" height="251.8" fill="none" stroke="#000" stroke-width="1.0"/>
<g opacity="0.999">
<line x1="110.60" x2="110.60" y1="256.3" y2="260.2" stroke="#000" stroke-width="0.9"/>
<text x="110.60" y="273.0" text-anchor="middle" class="dv">50000</text>
<line x1="189.53" x2="189.53" y1="256.3" y2="260.2" stroke="#000" stroke-width="0.9"/>
<text x="189.53" y="273.0" text-anchor="middle" class="dv">75000</text>
<line x1="268.46" x2="268.46" y1="256.3" y2="260.2" stroke="#000" stroke-width="0.9"/>
<text x="268.46" y="273.0" text-anchor="middle" class="dv">100000</text>
<line x1="347.39" x2="347.39" y1="256.3" y2="260.2" stroke="#000" stroke-width="0.9"/>
<text x="347.39" y="273.0" text-anchor="middle" class="dv">125000</text>
<line x1="426.32" x2="426.32" y1="256.3" y2="260.2" stroke="#000" stroke-width="0.9"/>
<text x="426.32" y="273.0" text-anchor="middle" class="dv">150000</text>
<line x1="505.25" x2="505.25" y1="256.3" y2="260.2" stroke="#000" stroke-width="0.9"/>
<text x="505.25" y="273.0" text-anchor="middle" class="dv">175000</text>
<line x1="584.18" x2="584.18" y1="256.3" y2="260.2" stroke="#000" stroke-width="0.9"/>
<text x="584.18" y="273.0" text-anchor="middle" class="dv">200000</text>
<line x1="663.11" x2="663.11" y1="256.3" y2="260.2" stroke="#000" stroke-width="0.9"/>
<text x="663.11" y="273.0" text-anchor="middle" class="dv">225000</text>
<line x1="37.300000000000004" x2="41.7" y1="243.75" y2="243.75" stroke="#000" stroke-width="0.9"/>
<text x="33.4" y="247.85" text-anchor="end" class="dv">0.0</text>
<line x1="37.300000000000004" x2="41.7" y1="213.75" y2="213.75" stroke="#000" stroke-width="0.9"/>
<text x="33.4" y="217.85" text-anchor="end" class="dv">0.1</text>
<line x1="37.300000000000004" x2="41.7" y1="183.75" y2="183.75" stroke="#000" stroke-width="0.9"/>
<text x="33.4" y="187.85" text-anchor="end" class="dv">0.2</text>
<line x1="37.300000000000004" x2="41.7" y1="153.75" y2="153.75" stroke="#000" stroke-width="0.9"/>
<text x="33.4" y="157.85" text-anchor="end" class="dv">0.3</text>
<line x1="37.300000000000004" x2="41.7" y1="123.75" y2="123.75" stroke="#000" stroke-width="0.9"/>
<text x="33.4" y="127.85" text-anchor="end" class="dv">0.4</text>
<line x1="37.300000000000004" x2="41.7" y1="93.75" y2="93.75" stroke="#000" stroke-width="0.9"/>
<text x="33.4" y="97.85" text-anchor="end" class="dv">0.5</text>
<line x1="37.300000000000004" x2="41.7" y1="63.75" y2="63.75" stroke="#000" stroke-width="0.9"/>
<text x="33.4" y="67.85" text-anchor="end" class="dv">0.6</text>
<line x1="37.300000000000004" x2="41.7" y1="33.75" y2="33.75" stroke="#000" stroke-width="0.9"/>
<text x="33.4" y="37.85" text-anchor="end" class="dv">0.7</text>
<text x="359.4" y="287.9" text-anchor="middle" class="dv">Breakeven mileage - km</text>
<text transform="translate(8.6,130.3) rotate(-90)" text-anchor="middle" class="dv">Electricity carbon intensity - kg CO2e per kWh</text>
<circle cx="541.2" cy="166.8" r="5.3" fill="#000" fill-opacity="0.37" stroke="#000" stroke-opacity="0.3" stroke-width="1.35"/>
<text x="552.4" y="170.1" class="lb">No scenario</text>
<rect x="536.0" y="178.6" width="10.4" height="10.4" fill="#f00" fill-opacity="0.5" stroke="#f00" stroke-opacity="0.5" stroke-width="1.35"/>
<text x="552.4" y="188.0" class="lb">No climate action</text>
<path d="M541.2,196.9 L546.7,207.9 L535.7,207.9 Z" fill="#ffa500" fill-opacity="0.5" stroke="#ffa500" stroke-opacity="0.5" stroke-width="1.35" stroke-linejoin="miter"/>
<text x="552.4" y="206.0" class="lb">Baseline (NDCs)</text>
<path d="M541.2,213.8 L546.2,218.8 L541.2,223.8 L536.2,218.8 Z" fill="#00f" fill-opacity="0.5" stroke="#00f" stroke-opacity="0.5" stroke-width="1.35"/>
<text x="552.4" y="223.5" class="lb">Ambitious (&lt; 2°C)</text>
<path d="M538.60,231.70 H543.80 V234.30 H546.40 V239.50 H543.80 V242.10 H538.60 V239.50 H536.00 V234.30 H538.60 Z" fill="#008000" fill-opacity="0.5" stroke="#008000" stroke-opacity="0.5" stroke-width="1.35"/>
<text x="552.4" y="241.1" class="lb">Very ambitious (1.5°C)</text>
</g>
</svg>
</body></html>
